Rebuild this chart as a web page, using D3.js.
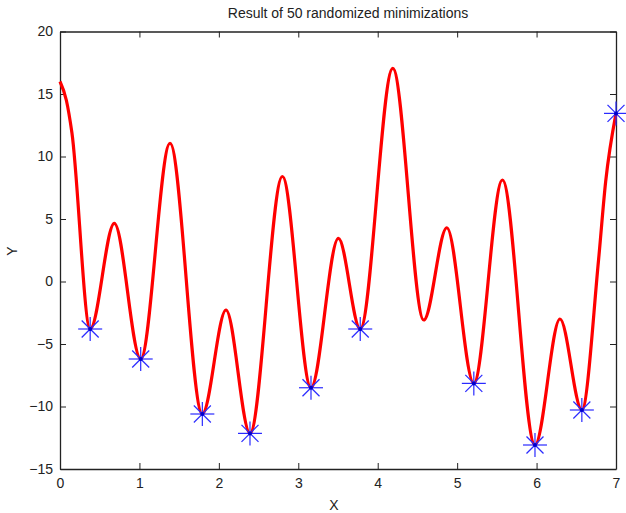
<!DOCTYPE html>
<html>
<head>
<meta charset="utf-8">
<script src="https://cdn.jsdelivr.net/npm/d3@7"></script>
<style>
  body { margin: 0; background: #fff; }
  text { font-family: "Liberation Sans", Arial, sans-serif; fill: #222; }
  .axis path, .axis line { stroke: #222; }
</style>
</head>
<body>
<svg id="chart"></svg>
<script>
// curve (extrema + a few points near the ends)
const curveX = [0, 0.08, 0.15, 0.38, 0.684, 1.016, 1.385, 1.792, 2.09, 2.392, 2.80, 3.16, 3.505,
  3.78, 4.19, 4.58, 4.87, 5.21, 5.57, 5.98, 6.295, 6.57, 6.78, 6.87, 7];
const curveY = [16.0, 14.5, 11.9, -3.8, 4.65, -6.2, 11.06, -10.6, -2.28, -12.15, 8.4, -8.5, 3.45,
  -3.8, 17.05, -3.08, 4.3, -8.15, 8.12, -13.08, -3.0, -10.28, 1.7, 8.0, 13.45];

// minima found by the randomized runs
const minX = [0.38, 1.016, 1.792, 2.392, 3.16, 3.78, 5.21, 5.98, 6.57, 7];
const minY = [-3.8, -6.2, -10.6, -12.15, -8.5, -3.8, -8.15, -13.08, -10.28, 13.45];

const xTicks = [0, 1, 2, 3, 4, 5, 6, 7];
const yTicks = [-15, -10, -5, 0, 5, 10, 15, 20];

const margin = {top: 31.5, right: 10, bottom: 44, left: 60};
const width = 626 - margin.left - margin.right;
const height = 513 - margin.top - margin.bottom;

const svg = d3.select("#chart")
    .attr("width", 626)
    .attr("height", 513);

const g = svg.append("g")
    .attr("transform", "translate(" + margin.left + "," + margin.top + ")");

const x = d3.scaleLinear().domain([0, 7]).range([0, width]);
const y = d3.scaleLinear().domain([-15, 20]).range([height, 0]);

// axes, ticks pointing inward like matlab
g.append("g")
    .attr("class", "axis")
    .attr("transform", "translate(0," + height + ")")
    .call(d3.axisBottom(x).tickValues(xTicks).tickFormat(d3.format("d"))
        .tickSize(-6).tickSizeOuter(0).tickPadding(8))
    .selectAll("text").style("font-size", "14px").attr("dy", "0.8em");

g.append("g")
    .attr("class", "axis")
    .call(d3.axisLeft(y).tickValues(yTicks).tickSize(-6).tickSizeOuter(0).tickPadding(7))
    .selectAll("text").style("font-size", "14px");

g.append("g")
    .attr("class", "axis")
    .call(d3.axisTop(x).tickValues(xTicks).tickSize(-6).tickSizeOuter(0).tickFormat(""));

g.append("g")
    .attr("class", "axis")
    .attr("transform", "translate(" + width + ",0)")
    .call(d3.axisRight(y).tickValues(yTicks).tickSize(-6).tickSizeOuter(0).tickFormat(""));

g.selectAll(".axis path").attr("stroke-width", 1.3);

// the function
const line = d3.line()
    .x(function(d, i) { return x(curveX[i]); })
    .y(function(d, i) { return y(curveY[i]); })
    .curve(d3.curveMonotoneX);

g.append("path")
    .datum(curveX)
    .attr("d", line)
    .attr("fill", "none")
    .attr("stroke", "#ff0000")
    .attr("stroke-width", 3.2)
    .attr("stroke-linejoin", "round");

// asterisk markers
const stars = g.selectAll(".star")
    .data(minX)
    .enter()
    .append("g")
    .attr("class", "star")
    .attr("transform", function(d, i) {
      return "translate(" + x(d) + "," + y(minY[i]) + ")";
    });

const r = 12;
const rd = 8.5;
const arms = [[-r, 0, r, 0], [0, -r, 0, r], [-rd, -rd, rd, rd], [-rd, rd, rd, -rd]];
arms.forEach(function(a) {
  stars.append("line")
      .attr("x1", a[0]).attr("y1", a[1])
      .attr("x2", a[2]).attr("y2", a[3])
      .attr("stroke", "#2a2aff")
      .attr("stroke-width", 1.2);
});
stars.append("circle")
    .attr("r", 2)
    .attr("fill", "#0000cc");

// labels
svg.append("text")
    .attr("x", margin.left + width / 2 + 10)
    .attr("y", 18)
    .attr("text-anchor", "middle")
    .style("font-size", "14px")
    .text("Result of 50 randomized minimizations");

svg.append("text")
    .attr("x", margin.left + width / 2 - 4)
    .attr("y", 510)
    .attr("text-anchor", "middle")
    .style("font-size", "14px")
    .text("X");

svg.append("text")
    .attr("transform", "translate(17,251) rotate(-90)")
    .attr("text-anchor", "middle")
    .style("font-size", "14px")
    .text("Y");
</script>
</body>
</html>
